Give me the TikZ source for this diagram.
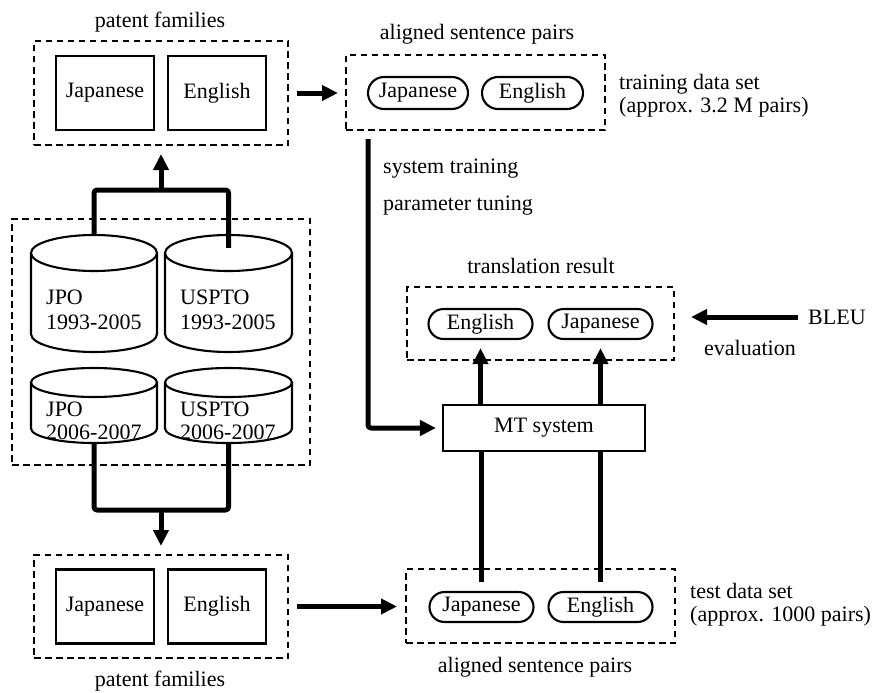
\documentclass[tikz,border=0pt]{standalone}
\usepackage{fontspec}
\setmainfont{Liberation Serif}
\usetikzlibrary{arrows.meta,calc}
\begin{document}
\begin{tikzpicture}[x=1pt,y=-1pt,
  font=\fontsize{22}{26}\selectfont,
  group/.style={draw,line width=2pt,dash pattern=on 6.5pt off 4.5pt,inner sep=0pt},
  doc/.style={draw,line width=2.2pt,minimum width=98pt,minimum height=74pt,inner sep=0pt},
  pill/.style={draw,line width=2.1pt,rounded corners=15pt,minimum width=104pt,minimum height=30pt,inner sep=0pt},
  sysbox/.style={draw,line width=2.1pt,minimum width=202pt,minimum height=46pt,inner sep=0pt},
  blank/.style={inner sep=0pt},
  txt/.style={inner sep=0pt},
  flow/.style={line width=5pt,line join=round,rounded corners=3pt,-{Triangle[length=16pt,width=15pt]}},
  link/.style={line width=5pt,line join=round,rounded corners=3pt},
  can/.style={line width=2.1pt,fill=white}]
\useasboundingbox (0,0) rectangle (873,693);

% patent families (upper)
\node[group,minimum width=254pt,minimum height=104pt] (pfTop) at (161,93) {};
\node[doc] (jaTop) at (105,93) {Japanese};
\node[doc] (enTop) at (217,93) {English};
\node[txt] (pfTopLbl) at (160,22) {patent families};

% patent families (lower)
\node[group,minimum width=254pt,minimum height=103pt] (pfBot) at (161,606.5) {};
\node[doc] (jaBot) at (105,606.5) {Japanese};
\node[doc] (enBot) at (217,606.5) {English};
\node[txt] (pfBotLbl) at (160,681) {patent families};

% patent databases
\node[group,minimum width=298pt,minimum height=246pt] (db) at (161,342) {};
\newcommand{\drawcan}[5]{% cx, rx, ytop, ybottom, ry
  \draw[can] (#1-#2,#3) -- (#1-#2,#4) arc[start angle=180,end angle=0,x radius=#2,y radius=#5] -- (#1+#2,#3);
  \draw[can] (#1,#3) ellipse[x radius=#2,y radius=#5];}
\drawcan{94}{63}{253}{334}{18}
\drawcan{228.5}{63.5}{253}{334}{18}
\drawcan{94}{63}{382.5}{428.5}{14.5}
\drawcan{228.5}{63.5}{382.5}{428.5}{14.5}
\node[blank,minimum width=126pt,minimum height=117pt] (jpoA) at (94,293.5) {};
\node[blank,minimum width=127pt,minimum height=117pt] (usA) at (228.5,293.5) {};
\node[blank,minimum width=126pt,minimum height=75pt] (jpoB) at (94,405.5) {};
\node[blank,minimum width=127pt,minimum height=75pt] (usB) at (228.5,405.5) {};
\node[txt,anchor=west,align=left] (jpoAt) at (46,310) {JPO\\[-1pt]1993-2005};
\node[txt,anchor=west,align=left] (usAt) at (180,310) {USPTO\\[-1pt]1993-2005};
\node[txt,anchor=west,align=left] (jpoBt) at (46,421) {JPO\\[-3pt]2006-2007};
\node[txt,anchor=west,align=left] (usBt) at (180,421) {USPTO\\[-3pt]2006-2007};

% aligned sentence pairs (training)
\node[group,minimum width=259pt,minimum height=75pt] (alTop) at (475.5,92.5) {};
\node[pill,minimum width=100pt,minimum height=32pt,rounded corners=16pt] (jaTr) at (418,93) {Japanese};
\node[pill,minimum width=101pt,minimum height=32pt,rounded corners=16pt] (enTr) at (532.5,93) {English};
\node[txt] (alTopLbl) at (477,34) {aligned sentence pairs};
\node[txt,anchor=west,align=left] (trainLbl) at (619,96) {training data set\\[-3pt](approx. 3.2 M pairs)};
\node[txt,anchor=west] (sysTr) at (383,169) {system training};
\node[txt,anchor=west] (parTu) at (383,206) {parameter tuning};

% translation result
\node[group,minimum width=267pt,minimum height=73pt] (trRes) at (540.5,323.5) {};
\node[pill] (enOut) at (480.5,324) {English};
\node[pill] (jaOut) at (600.5,324) {Japanese};
\node[txt] (trLbl) at (541,266) {translation result};
\node[txt,anchor=west] (bleu) at (808,317) {BLEU};
\node[txt] (evalLbl) at (750,348) {evaluation};

% MT system
\node[sysbox] (mt) at (544,428) {MT system};

% aligned sentence pairs (test)
\node[group,minimum width=269pt,minimum height=74pt] (alBot) at (540.5,606) {};
\node[pill] (jaTe) at (481.5,607) {Japanese};
\node[pill] (enTe) at (600.5,607) {English};
\node[txt] (alBotLbl) at (535,667) {aligned sentence pairs};
\node[txt,anchor=west,align=left] (testLbl) at (690,605) {test data set\\[-3pt](approx. 1000 pairs)};

% connectors
\coordinate (upJoin) at (161,190);
\coordinate (downJoin) at (161,510);
\draw[link] (jpoA.north) |- (upJoin) -| ([yshift=-13pt]usA.north);
\draw[flow,rounded corners=0pt,shorten >=8pt] (upJoin) -- (upJoin |- pfTop.south);
\draw[link] (jpoB.south) |- (downJoin) -| (usB.south);
\draw[flow,rounded corners=0pt,shorten >=8pt] (downJoin) -- (downJoin |- pfBot.north);

\draw[flow,shorten <=8pt,shorten >=7pt] (pfTop.east) -- (pfTop.east -| alTop.west);
\draw[flow,shorten <=8pt,shorten >=8pt] (pfBot.east) -- (pfBot.east -| alBot.west);

\coordinate (fbx) at (368,0);
\draw[flow,shorten <=8pt,shorten >=6pt] (alTop.south -| fbx) |- (mt.west);

\draw[flow,rounded corners=0pt,shorten >=8pt] (mt.north -| enOut.south) -- (enOut.south);
\draw[flow,rounded corners=0pt,shorten >=8pt] (mt.north -| jaOut.south) -- (jaOut.south);
\draw[link,rounded corners=0pt,shorten <=9pt] (jaTe.north) -- (mt.south -| jaTe.north);
\draw[link,rounded corners=0pt,shorten <=9pt] (enTe.north) -- (mt.south -| enTe.north);

\draw[flow,rounded corners=0pt,shorten <=10pt,shorten >=16pt] (bleu.west) -- (bleu.west -| trRes.east);
\end{tikzpicture}
\end{document}
